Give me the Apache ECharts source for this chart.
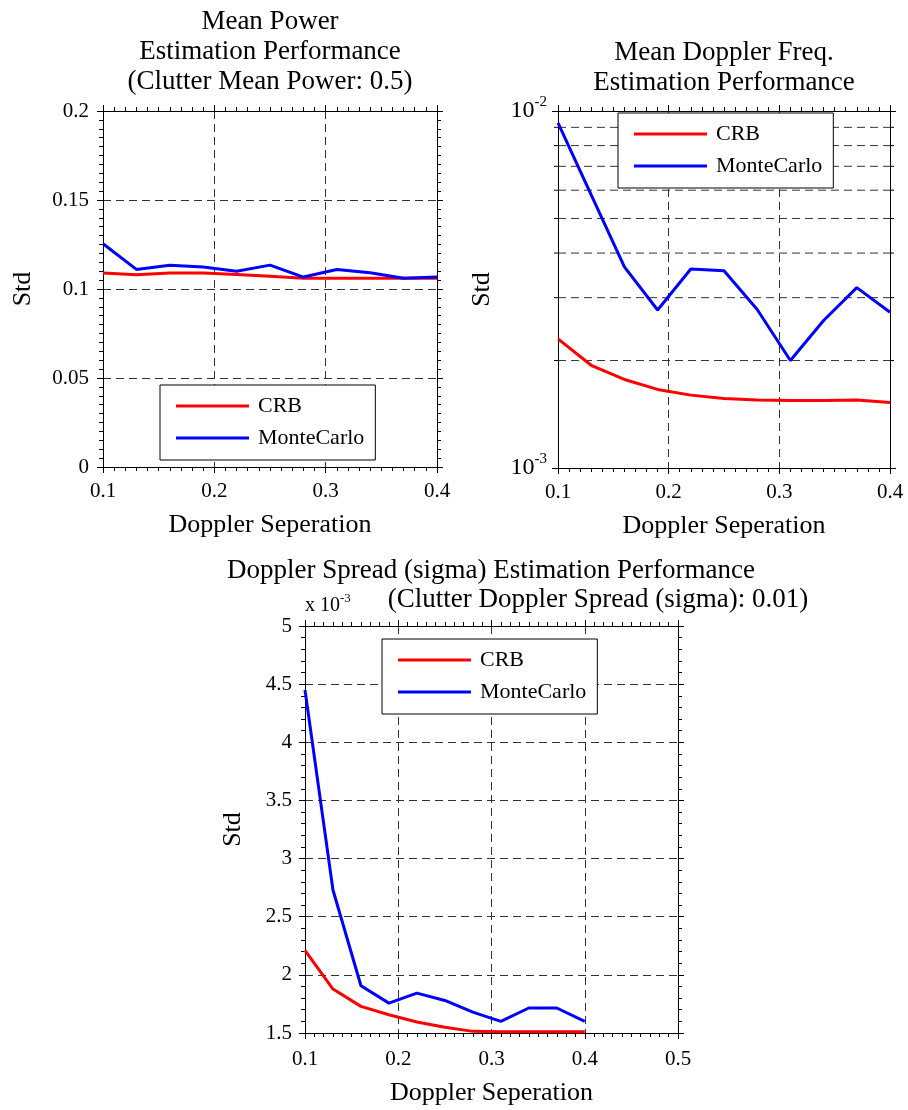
<!DOCTYPE html>
<html>
<head>
<meta charset="utf-8">
<script src="https://cdn.jsdelivr.net/npm/echarts@6/dist/echarts.min.js"></script>
<style>html,body{margin:0;padding:0;background:#fff}#c{width:908px;height:1110px}</style>
</head>
<body>
<div id="c"></div>
<script>
// ---- data ----
const xValues = [0.1, 0.13, 0.16, 0.19, 0.22, 0.25, 0.28, 0.31, 0.34, 0.37, 0.4];
const powerCRB = [0.109, 0.108, 0.109, 0.109, 0.1082, 0.1072, 0.106, 0.106, 0.106, 0.106, 0.106];
const powerMC = [0.1254, 0.111, 0.1134, 0.1123, 0.110, 0.1134, 0.1067, 0.111, 0.1091, 0.106, 0.1067];
const freqCRB = [2.30e-3, 1.94e-3, 1.77e-3, 1.66e-3, 1.60e-3, 1.565e-3, 1.55e-3, 1.545e-3, 1.545e-3, 1.55e-3, 1.525e-3];
const freqMC = [9.27e-3, 5.82e-3, 3.66e-3, 2.77e-3, 3.61e-3, 3.57e-3, 2.78e-3, 2.0e-3, 2.59e-3, 3.2e-3, 2.73e-3];
// Doppler spread values in units of 1e-3
const spreadCRB = [2.21, 1.878, 1.729, 1.657, 1.594, 1.549, 1.514, 1.51, 1.51, 1.51, 1.51];
const spreadMC = [4.45, 2.73, 1.906, 1.757, 1.843, 1.78, 1.68, 1.60, 1.715, 1.715, 1.60];
const logGridValues = [0.002, 0.003, 0.004, 0.005, 0.006, 0.007, 0.008, 0.009];
const seriesNames = ['CRB', 'MonteCarlo'];
const titlePower = 'Mean Power\nEstimation Performance\n(Clutter Mean Power: 0.5)';
const titleFreq = 'Mean Doppler Freq.\nEstimation Performance';
const titleSpread1 = 'Doppler Spread (sigma) Estimation Performance';
const titleSpread2 = '(Clutter Doppler Spread (sigma): 0.01)';
const xName = 'Doppler Seperation';
const yName = 'Std';

// ---- styling ----
const FF = 'Liberation Serif';
const BLACK = '#000';
const RED = '#ff0000';
const BLUE = '#0000ff';
const gridDash = { color: '#333', type: [8, 5], width: 1 };

function xAxisPair(gi, min, max, nameGap, labelMargin) {
  const base = {
    type: 'value', gridIndex: gi, min: min, max: max, interval: 0.1,
    axisLine: { show: true, onZero: false, lineStyle: { color: BLACK, width: 1 } },
    axisTick: { show: true, length: 6, lineStyle: { color: BLACK } },
    minorTick: { show: true, splitNumber: 10, length: 4, lineStyle: { color: BLACK } }
  };
  return [
    Object.assign({}, base, {
      position: 'bottom', name: xName, nameLocation: 'middle', nameGap: nameGap,
      nameTextStyle: { fontFamily: FF, fontSize: 26, color: BLACK },
      axisLabel: { show: true, margin: labelMargin, fontFamily: FF, fontSize: 21, color: BLACK },
      splitLine: { show: true, lineStyle: gridDash }
    }),
    Object.assign({}, base, { position: 'top', axisLabel: { show: false }, splitLine: { show: false } })
  ];
}

function yAxisPair(gi, cfg) {
  const base = {
    type: cfg.type, gridIndex: gi, min: cfg.min, max: cfg.max,
    axisLine: { show: true, onZero: false, lineStyle: { color: BLACK, width: 1 } },
    axisTick: { show: true, length: 6, lineStyle: { color: BLACK } },
    minorTick: { show: cfg.type !== 'log', splitNumber: cfg.minorSplit || 5, length: 4, lineStyle: { color: BLACK } }
  };
  if (cfg.type === 'log') base.logBase = 10; else base.interval = cfg.interval;
  return [
    Object.assign({}, base, {
      position: 'left', name: yName, nameLocation: 'middle', nameGap: cfg.nameGap, nameRotate: 90,
      nameTextStyle: { fontFamily: FF, fontSize: 26, color: BLACK },
      axisLabel: Object.assign({ show: true, margin: cfg.labelMargin, fontFamily: FF, fontSize: 21, color: BLACK }, cfg.label || {}),
      splitLine: { show: cfg.type !== 'log', lineStyle: gridDash }
    }),
    Object.assign({}, base, { position: 'right', axisLabel: { show: false }, splitLine: { show: false } })
  ];
}

function legendAt(left, top) {
  return {
    data: seriesNames, orient: 'vertical', left: left, top: top,
    icon: 'rect', itemWidth: 73, itemHeight: 3, itemGap: 10,
    padding: [10, 11, 11, 16],
    backgroundColor: '#fff', borderColor: BLACK, borderWidth: 1, borderRadius: 0,
    textStyle: { fontFamily: FF, fontSize: 22, color: BLACK, lineHeight: 22, padding: [0, 0, 0, 4] },
    selectedMode: false, z: 10
  };
}

function lineSeries(name, color, values, axisIdx) {
  return {
    type: 'line', name: name, xAxisIndex: axisIdx, yAxisIndex: axisIdx,
    data: xValues.map((x, i) => [x, values[i]]),
    symbol: 'none', showSymbol: false,
    lineStyle: { color: color, width: 3 }, itemStyle: { color: color },
    z: 3, animation: false
  };
}

const titleText = { fontFamily: FF, fontSize: 27, fontWeight: 'normal', color: BLACK, lineHeight: 30 };

const option = {
  animation: false,
  backgroundColor: '#fff',
  title: [
    { text: titlePower, left: 270, top: 7, textAlign: 'center', padding: 0, textStyle: titleText },
    { text: titleFreq, left: 724, top: 38, textAlign: 'center', padding: 0, textStyle: titleText },
    { text: titleSpread1, left: 491, top: 556, textAlign: 'center', padding: 0, textStyle: titleText },
    { text: titleSpread2, left: 598, top: 585, textAlign: 'center', padding: 0, textStyle: titleText },
    {
      text: '{a|x 10}{b|-3}', left: 305, top: 592, padding: 0,
      textStyle: {
        fontWeight: 'normal',
        rich: {
          a: { fontFamily: FF, fontSize: 20, fontWeight: 'normal', color: BLACK },
          b: { fontFamily: FF, fontSize: 13, fontWeight: 'normal', color: BLACK, padding: [0, 0, 14, 0] }
        }
      }
    }
  ],
  grid: [
    { left: 103, top: 111, width: 334, height: 356 },
    { left: 558, top: 111, width: 332, height: 357 },
    { left: 305, top: 626, width: 373, height: 407 }
  ],
  xAxis: [].concat(
    xAxisPair(0, 0.1, 0.4, 45, 14),
    xAxisPair(1, 0.1, 0.4, 45, 14),
    xAxisPair(2, 0.1, 0.5, 47, 16)
  ),
  yAxis: [].concat(
    yAxisPair(0, { type: 'value', min: 0, max: 0.2, interval: 0.05, minorSplit: 10, nameGap: 67, labelMargin: 14 }),
    yAxisPair(1, {
      type: 'log', min: 0.001, max: 0.01, nameGap: 63, labelMargin: 11,
      label: {
        formatter: function (v) { return '{a|10}{b|' + Math.round(Math.log10(v)) + '}'; },
        rich: {
          a: { fontFamily: FF, fontSize: 24, color: BLACK },
          b: { fontFamily: FF, fontSize: 15, color: BLACK, padding: [0, 0, 18, 0] }
        }
      }
    }),
    yAxisPair(2, { type: 'value', min: 1.5, max: 5, interval: 0.5, minorSplit: 5, nameGap: 59, labelMargin: 13 })
  ),
  legend: [legendAt(160, 385), legendAt(618, 113), legendAt(382, 639)],
  series: [
    lineSeries(seriesNames[0], RED, powerCRB, 0),
    lineSeries(seriesNames[1], BLUE, powerMC, 0),
    lineSeries(seriesNames[0], RED, freqCRB, 2),
    lineSeries(seriesNames[1], BLUE, freqMC, 2),
    lineSeries(seriesNames[0], RED, spreadCRB, 4),
    lineSeries(seriesNames[1], BLUE, spreadMC, 4),
    {
      type: 'custom', xAxisIndex: 2, yAxisIndex: 2, silent: true, animation: false, z: 1, clip: false,
      data: logGridValues.map(v => [0.1, v]),
      renderItem: function (params, api) {
        const v = api.value(1);
        const p0 = api.coord([0.1, v]);
        const p1 = api.coord([0.4, v]);
        return {
          type: 'group',
          children: [
            { type: 'line', shape: { x1: p0[0], y1: p0[1], x2: p1[0], y2: p1[1] }, style: { stroke: '#333', lineWidth: 1, lineDash: [8, 5] } },
            { type: 'line', shape: { x1: p0[0] - 4, y1: p0[1], x2: p0[0], y2: p0[1] }, style: { stroke: BLACK, lineWidth: 1 } },
            { type: 'line', shape: { x1: p1[0], y1: p1[1], x2: p1[0] + 4, y2: p1[1] }, style: { stroke: BLACK, lineWidth: 1 } }
          ]
        };
      }
    }
  ]
};

const chart = echarts.init(document.getElementById('c'), null, { renderer: 'canvas' });
chart.setOption(option);
</script>
</body>
</html>
